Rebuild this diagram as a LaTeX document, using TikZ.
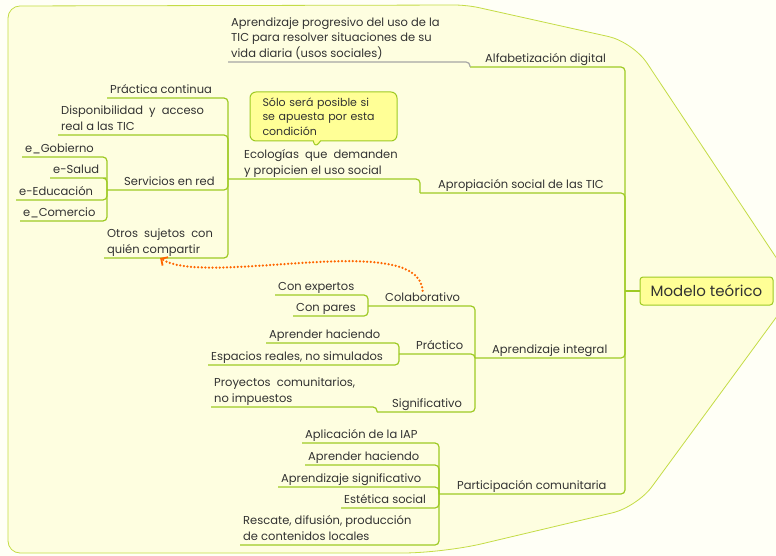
\documentclass[tikz,border=0pt]{standalone}
\usepackage{fontspec}
\setmainfont{Poppins}
\usetikzlibrary{shapes.callouts,arrows.meta}
\definecolor{rama}{RGB}{158,202,36}
\definecolor{borde}{RGB}{196,220,70}
\definecolor{fondo}{RGB}{254,254,224}
\definecolor{papel}{RGB}{255,255,246}
\definecolor{tinta}{RGB}{50,50,50}
\definecolor{amarillo}{RGB}{255,255,150}
\definecolor{naranja}{RGB}{255,102,0}
\definecolor{gris}{RGB}{165,165,165}

\begin{document}
\begin{tikzpicture}[x=1pt,y=-1pt,
    topic/.style={anchor=south west,inner xsep=3pt,inner ysep=1.5pt,text depth=3pt,
      align=left,text=tinta,font=\fontsize{11.5}{15.5}\selectfont},
    link/.style={draw=rama,line width=1.2pt,rounded corners=4pt},
    raiz/.style={draw=rama,fill=amarillo,line width=1pt,rounded corners=3pt,
      minimum width=133pt,minimum height=28pt,text=tinta,font=\fontsize{15}{17}\selectfont},
    nota/.style={rectangle callout,draw=rama,fill=amarillo,line width=1pt,rounded corners=6pt,
      minimum width=147pt,minimum height=49pt,text width=122pt,align=left,text=tinta,
      font=\fontsize{11}{14.5}\selectfont},
    relacion/.style={draw=naranja,line width=2.5pt,line cap=round,dash pattern=on 0pt off 3.6pt,
      -{Straight Barb[length=5pt,width=10pt,line width=1.8pt]}}]
  \useasboundingbox (0,0) rectangle (776,556);
  \clip (0,0) rectangle (776,556);
  \fill[papel] (0,0) rectangle (776,556);
  \filldraw[fill=fondo,draw=borde,line width=0.8pt]
    [rounded corners=12pt] (8,6) -- (467,5) [rounded corners=25pt] -- (633,42) -- (797,289)
    -- (637,507) [rounded corners=40pt] -- (443,553) [rounded corners=12pt] -- (8,553) -- cycle;

  % centro
  \node[raiz] (root) at (706.5,291) {Modelo teórico};
  \coordinate (rj) at (625,291);
  \draw[link] (root.west) -- (rj);

  % ramas principales
  \node[topic] (a1) at (482,67) {Alfabetización digital};
  \node[topic] (a2) at (435,193) {Apropiación social de las TIC};
  \node[topic] (a3) at (489,358) {Aprendizaje integral};
  \node[topic] (a4) at (454,494) {Participación comunitaria};
  \coordinate (a1j) at (470,67);
  \coordinate (a2j) at (420,193);
  \coordinate (a3j) at (475,358);
  \coordinate (a4j) at (439,494);
  \draw[link] (a1j) -- (a1.south east) -| (rj);
  \draw[link] (a2j) -- (a2.south east) -| (rj);
  \draw[link] (a3j) -- (a3.south east) -| (rj);
  \draw[link] (a4j) -- (a4.south east) -| (rj);

  % alfabetizacion
  \node[topic] (ap) at (228,62) {Aprendizaje progresivo del uso de la\\
    TIC para resolver situaciones de su\\vida diaria (usos sociales)};
  \draw[link,draw=gris] (ap.south west) -- (ap.south east) -| (a1j);

  % apropiacion
  \node[topic] (eco) at (241,179) {Ecologías \ que \ demanden\\y propicien el uso social};
  \coordinate (ecj) at (228,179);
  \draw[link] (ecj) -- (eco.south east) -| (a2j);
  \node[nota,callout absolute pointer={(315,148)}] (cond) at (323.5,116.5)
    {Sólo será posible si\\se apuesta por esta\\condición};

  \node[topic] (pc) at (107,98) {Práctica continua};
  \node[topic] (da) at (58,135) {Disponibilidad \ y \ acceso\\real a las TIC};
  \node[topic] (sr) at (121,190) {Servicios en red};
  \node[topic] (os) at (104,258) {Otros \ sujetos \ con\\quién compartir};
  \coordinate (srj) at (107,190);
  \draw[link] (pc.south west) -- (pc.south east) -| (ecj);
  \draw[link] (da.south west) -- (da.south east) -| (ecj);
  \draw[link] (srj) -- (sr.south east) -| (ecj);
  \draw[link] (os.south west) -- (os.south east) -| (ecj);

  \node[topic] (eg) at (22,157) {e\_Gobierno};
  \node[topic] (es) at (50,178) {e-Salud};
  \node[topic] (ee) at (16,200) {e-Educación};
  \node[topic] (ec) at (20,221) {e\_Comercio};
  \foreach \n in {eg,es,ee,ec}
    \draw[link] (\n.south west) -- (\n.south east) -| (srj);

  % aprendizaje integral
  \node[topic] (col) at (382,306) {Colaborativo};
  \node[topic] (pra) at (413,354) {Práctico};
  \node[topic] (sig) at (389,412) {Significativo};
  \coordinate (colj) at (368,306);
  \coordinate (praj) at (399,354);
  \coordinate (sigj) at (377,412);
  \draw[link] (colj) -- (col.south east) -| (a3j);
  \draw[link] (praj) -- (pra.south east) -| (a3j);
  \draw[link] (sigj) -- (sig.south east) -| (a3j);

  \node[topic] (cex) at (275,295) {Con expertos};
  \node[topic] (cpa) at (293,316) {Con pares};
  \draw[link] (cex.south west) -- (cex.south east) -| (colj);
  \draw[link] (cpa.south west) -- (cpa.south east) -| (colj);
  \node[topic] (ah1) at (266,343) {Aprender haciendo};
  \node[topic] (esp) at (208,365) {Espacios reales, no simulados};
  \draw[link] (ah1.south west) -- (ah1.south east) -| (praj);
  \draw[link] (esp.south west) -- (esp.south east) -| (praj);
  \node[topic] (pro) at (211,407) {Proyectos \ comunitarios,\\no impuestos};
  \draw[link] (pro.south west) -- (pro.south east) -| (sigj);

  % participacion
  \node[topic] (iap) at (302,443) {Aplicación de la IAP};
  \node[topic] (ah2) at (305,465) {Aprender haciendo};
  \node[topic] (asg) at (278,487) {Aprendizaje significativo};
  \node[topic] (est) at (341,508) {Estética social};
  \node[topic] (res) at (240,545) {Rescate, difusión, producción\\de contenidos locales};
  \foreach \n in {iap,ah2,asg,est,res}
    \draw[link] (\n.south west) -- (\n.south east) -| (a4j);

  % relacion
  \draw[relacion] (col.north) .. controls +(-4,-62) and +(46,30) .. (os.south);
\end{tikzpicture}
\end{document}
